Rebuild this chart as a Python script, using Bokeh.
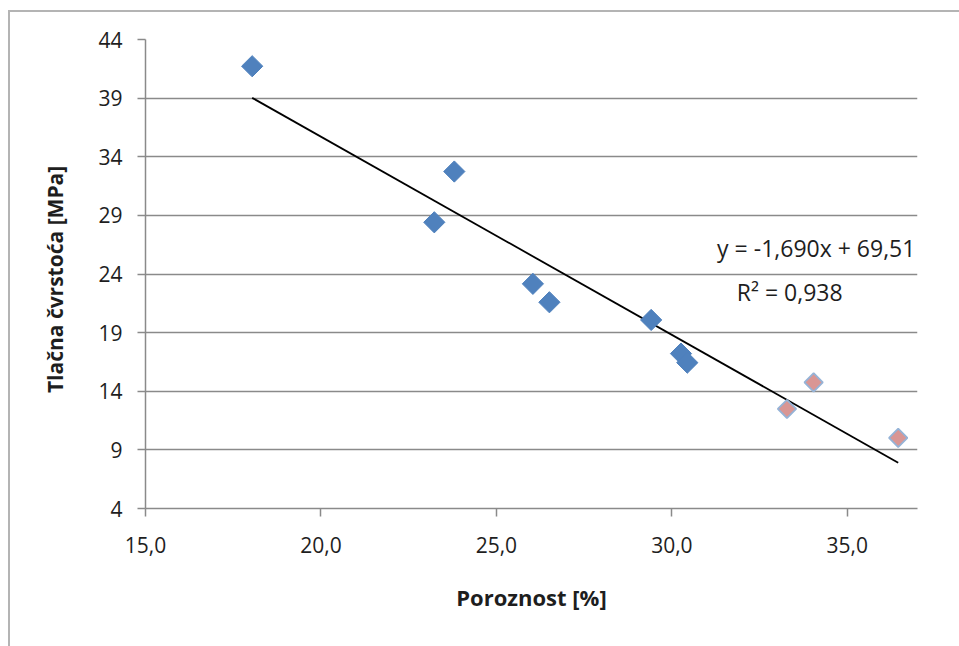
import numpy as np
from bokeh.plotting import figure
from bokeh.models import FixedTicker, Label
from bokeh.embed import file_html
from bokeh.resources import INLINE

# ---- data ----
blue_x = [18.04, 23.80, 23.23, 26.04, 26.51, 29.41, 30.26, 30.44]
blue_y = [41.72, 32.74, 28.41, 23.16, 21.59, 20.08, 17.21, 16.44]
pink_x = [33.28, 34.04, 36.45]
pink_y = [12.49, 14.76, 10.02]

slope = -1.690
intercept = 69.51
eq_text = "y = -1,690x + 69,51"
r2_text = "R² = 0,938"

x_ticks = [15, 20, 25, 30, 35]
x_tick_labels = ["15,0", "20,0", "25,0", "30,0", "35,0"]
y_ticks = [4, 9, 14, 19, 24, 29, 34, 39, 44]

x_title = "Poroznost [%]"
y_title = "Tlačna  čvrstoća  [MPa]"

FONT = "Open Sans"
W, H = 959, 646
BORDER = "#b4b4b4"

p = figure(width=W, height=H, x_range=(15, 37), y_range=(4, 44),
           output_backend="svg", toolbar_location=None,
           min_border_left=145, min_border_top=39, min_border_right=42,
           min_border_bottom=138)
p.outline_line_color = None
p.background_fill_color = "white"
p.border_fill_color = None
# outer chart frame (top and left edges visible, rest beyond the view)
p.styles = {
    "background-color": "white",
    "background-image": (f"linear-gradient({BORDER},{BORDER}), "
                         f"linear-gradient({BORDER},{BORDER})"),
    "background-position": "8px 10px, 8px 10px",
    "background-size": "2px 3000px, 3000px 2px",
    "background-repeat": "no-repeat, no-repeat",
}

# axes
for ax in (p.xaxis[0], p.yaxis[0]):
    ax.axis_line_color = "#8a8a8a"
    ax.axis_line_width = 1.5
    ax.major_tick_line_color = "#8a8a8a"
    ax.major_tick_line_width = 1.5
    ax.major_tick_in = 0
    ax.major_tick_out = 8
    ax.minor_tick_line_color = None
    ax.major_label_text_font = FONT
    ax.major_label_text_font_size = "21px"
    ax.major_label_text_color = "#1e1e1e"
    ax.axis_label_text_font = FONT
    ax.axis_label_text_font_style = "bold"
    ax.axis_label_text_color = "#1e1e1e"

p.xaxis.ticker = FixedTicker(ticks=x_ticks)
p.xaxis.major_label_overrides = {t: l for t, l in zip(x_ticks, x_tick_labels)}
p.xaxis.major_label_standoff = 20
p.xaxis.axis_label = x_title
p.xaxis.axis_label_text_font_size = "22px"
p.xaxis.axis_label_standoff = 26

p.yaxis.ticker = FixedTicker(ticks=y_ticks)
p.yaxis.major_label_standoff = 15
p.yaxis.axis_label = y_title
p.yaxis.axis_label_text_font_size = "21px"
p.yaxis.axis_label_standoff = 26

p.xgrid.grid_line_color = None
p.ygrid.ticker = FixedTicker(ticks=y_ticks)
p.ygrid.grid_line_color = "#8a8a8a"
p.ygrid.grid_line_width = 1.5

# trend line spanning the data
all_x = blue_x + pink_x
tx = [min(all_x), max(all_x)]
ty = [slope * v + intercept for v in tx]
p.line(tx, ty, line_color="black", line_width=1.8)

# markers
p.scatter(blue_x, blue_y, marker="square", angle=np.pi / 4, size=15,
          fill_color="#4f81bd", line_color="#4f81bd", line_width=1)
p.scatter(pink_x, pink_y, marker="square", angle=np.pi / 4, size=13,
          fill_color="#d99694", line_color="#95b3d7", line_width=1.8)

# trendline labels
p.add_layout(Label(x=36.94, y=26.25, text=eq_text, text_align="right",
                   text_baseline="middle", text_font=FONT,
                   text_font_size="23px", text_color="#1e1e1e"))
p.add_layout(Label(x=31.85, y=22.5, text=r2_text, text_align="left",
                   text_baseline="middle", text_font=FONT,
                   text_font_size="23px", text_color="#1e1e1e"))

open("out.html", "w").write(file_html(p, INLINE))
